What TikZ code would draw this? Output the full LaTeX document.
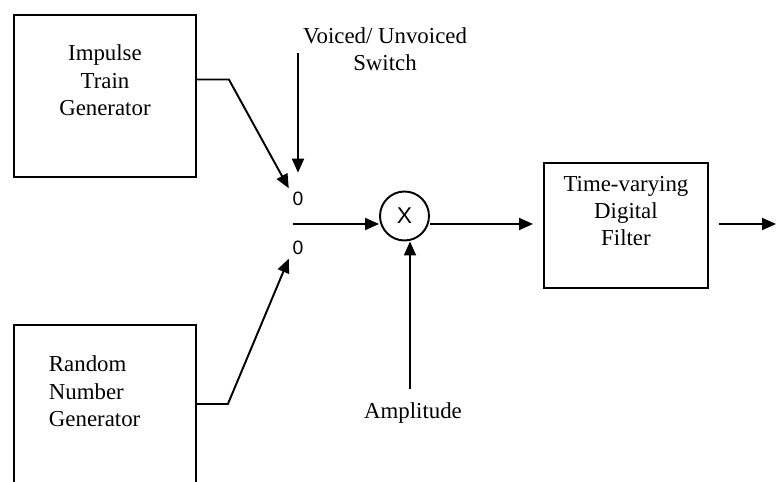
\documentclass[tikz,border=0pt]{standalone}
\usepackage{fontspec}
\setmainfont{Liberation Serif}
\setsansfont{Liberation Sans}
\usepackage{tikz}
\usetikzlibrary{arrows.meta,positioning,calc}
\tikzset{
  block/.style={draw,line width=1.1pt,rectangle,align=center,inner xsep=0pt,
    font=\fontsize{13}{15.5}\selectfont},
  mixer/.style={draw,circle,line width=1.1pt,minimum size=0.98cm,inner sep=0pt,
    font=\sffamily\fontsize{13}{13}\selectfont},
  contact/.style={inner sep=2pt,font=\sffamily\fontsize{11}{11}\selectfont},
  labelstyle/.style={align=center,inner sep=2pt,font=\fontsize{13}{15.5}\selectfont},
  arrow/.style={-{Triangle[length=2.8mm,width=2.4mm]},line width=1.1pt}
}
\begin{document}
\begin{tikzpicture}[x=0.02cm,y=-0.02cm]
        \useasboundingbox (0,0) rectangle (776,482);
        \clip (0,0) rectangle (776,482);
        % excitation sources
        \node[block,anchor=north west,text width=3.64cm,inner ysep=0.6cm,text depth=1.72cm] (imp) at (13,14) {Impulse\\Train\\Generator};
        \node[block,anchor=north west,align=left,text width=2.24cm,inner xsep=0.7cm,inner ysep=0.62cm,text depth=3.5cm] (rng) at (13,324) {Random\\Number\\Generator};
        % switch, gain and filter
        \node[contact] (up0) at (298,199) {0};
        \node[contact] (lo0) at (298,248) {0};
        \node[labelstyle] (vus) at (385,49.5) {Voiced/ Unvoiced\\Switch};
        \node[mixer] (mult) at (404.5,216) {X};
        \node[labelstyle] (amp) at (413,413) {Amplitude};
        \node[block,anchor=north west,text width=3.28cm,inner ysep=0.26cm,text depth=1.67cm] (filt) at (543,162) {Time-varying\\Digital\\Filter};
        \coordinate (swtop) at (298,53);
        \coordinate (junc) at (293,224);
        \coordinate (out) at (776,224);
        \draw[arrow] ($(imp.north east)!0.4!(imp.south east)$) -- ++(32,0) -- (up0.north west);
        \draw[arrow] ($(rng.north east)+(0,80)$) -- ++(31,0) -- (lo0.south west);
        \draw[arrow,shorten >=8.9pt] (swtop) -- (up0.north);
        \draw[arrow] (junc) -- (junc -| mult.west);
        \draw[arrow,shorten >=0.2cm] (junc -| mult.east) -- (junc -| filt.west);
        \draw[arrow,shorten <=0.2cm] (junc -| filt.east) -- (out);
        \draw[arrow] ([xshift=-0.06cm,yshift=0.2cm]amp.north) -- ([xshift=0.11cm]mult.south);
      \end{tikzpicture}
\end{document}
